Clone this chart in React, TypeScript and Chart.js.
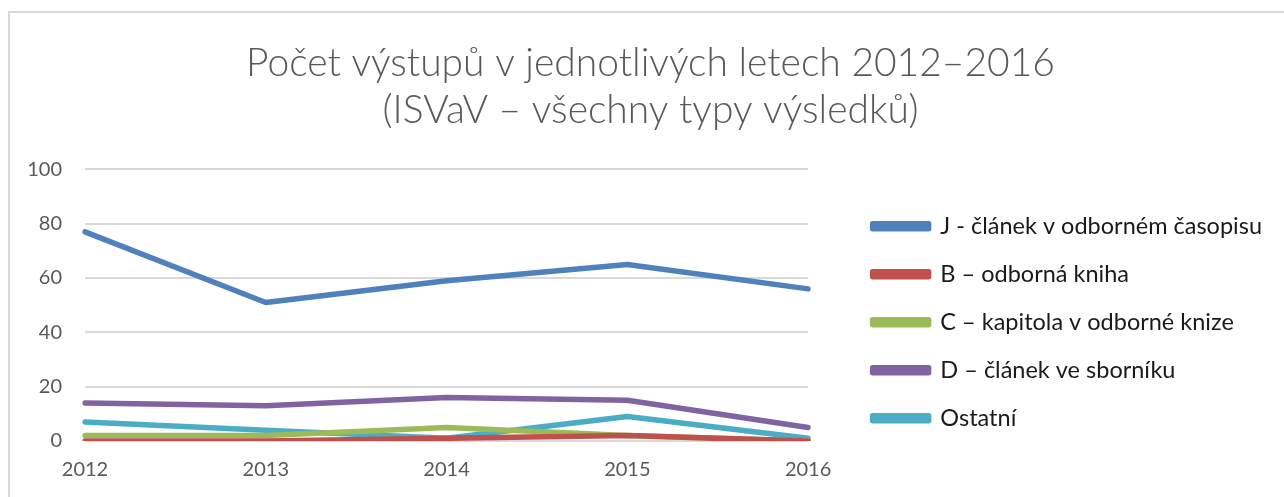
import React, { useEffect, useRef } from "react";
import { Chart, registerables } from "chart.js";

Chart.register(...registerables);

const years = ["2012", "2013", "2014", "2015", "2016"];
const seriesNames = [
  "J - článek v odborném časopisu",
  "B – odborná kniha",
  "C – kapitola v odborné knize",
  "D – článek ve sborníku",
  "Ostatní",
];
const jValues = [77, 51, 59, 65, 56];
const bValues = [0, 0, 1, 2, 0];
const cValues = [2, 2, 5, 2, 0];
const dValues = [14, 13, 16, 15, 5];
const oValues = [7, 4, 1, 9, 1];
const seriesColors = ["#4F81BD", "#C0504D", "#9BBB59", "#8064A2", "#4BACC6"];
const titleLines = [
  "Počet výstupů v jednotlivých letech 2012–2016",
  "(ISVaV – všechny typy výsledků)",
];

export default function App() {
  const ref = useRef<HTMLCanvasElement>(null);
  useEffect(() => {
    document.body.style.margin = "0";
    const values = [jValues, bValues, cValues, dValues, oValues];
    const chart = new Chart(ref.current!, {
      type: "line",
      data: {
        labels: years,
        datasets: seriesNames.map((name, i) => ({
          label: name,
          data: values[i],
          borderColor: seriesColors[i],
          backgroundColor: seriesColors[i],
          borderWidth: 5.5,
          pointRadius: 0,
          tension: 0,
          borderCapStyle: "round" as const,
          borderJoinStyle: "round" as const,
        })),
      },
      options: {
        responsive: false,
        animation: false,
        layout: { padding: { left: 29, right: 12, top: 0, bottom: 15 } },
        plugins: {
          title: {
            display: true,
            text: titleLines,
            color: "#595959",
            font: { family: "Lato", size: 39, weight: 300, lineHeight: 1.21 },
            padding: { top: 40, bottom: 35 },
          },
          legend: {
            position: "right",
            align: "start",
            maxWidth: 600,
            title: {
              display: true,
              text: "",
              padding: { top: 160, bottom: 0 },
              font: { size: 25, lineHeight: 1.2 },
            },
            labels: {
              boxWidth: 56,
              boxHeight: 5,
              color: "#1a1a1a",
              padding: 24.5,
              font: { family: "Lato", size: 23.5 },
            },
          },
          tooltip: { enabled: false },
        },
        scales: {
          x: {
            offset: false,
            grid: { display: false, drawTicks: false },
            border: { display: false },
            ticks: { color: "#595959", font: { family: "Lato", size: 20 }, padding: 17, maxRotation: 0 },
            afterFit: (scale: any) => {
              scale.height = 41;
            },
          },
          y: {
            min: 0,
            max: 100,
            ticks: { stepSize: 20, color: "#595959", font: { family: "Lato", size: 20 }, padding: 23 },
            grid: { color: "#d9d9d9", lineWidth: 2, drawTicks: false },
            border: { display: false },
            afterFit: (scale: any) => {
              scale.width = 56;
            },
          },
          yGap: {
            position: "right",
            display: true,
            grid: { display: false, drawTicks: false },
            border: { display: false },
            ticks: { display: false },
            afterFit: (scale: any) => {
              scale.width = 40;
            },
          },
        },
      },
    });
    return () => chart.destroy();
  }, []);
  return (
    <div style={{ position: "relative", width: 1284, height: 497, background: "#fff" }}>
      <canvas ref={ref} width={1284} height={497} />
      <div
        style={{
          position: "absolute",
          left: 8,
          top: 11,
          width: 1290,
          height: 500,
          borderLeft: "2px solid #d9d9d9",
          borderTop: "2px solid #d9d9d9",
          pointerEvents: "none",
        }}
      />
    </div>
  );
}
